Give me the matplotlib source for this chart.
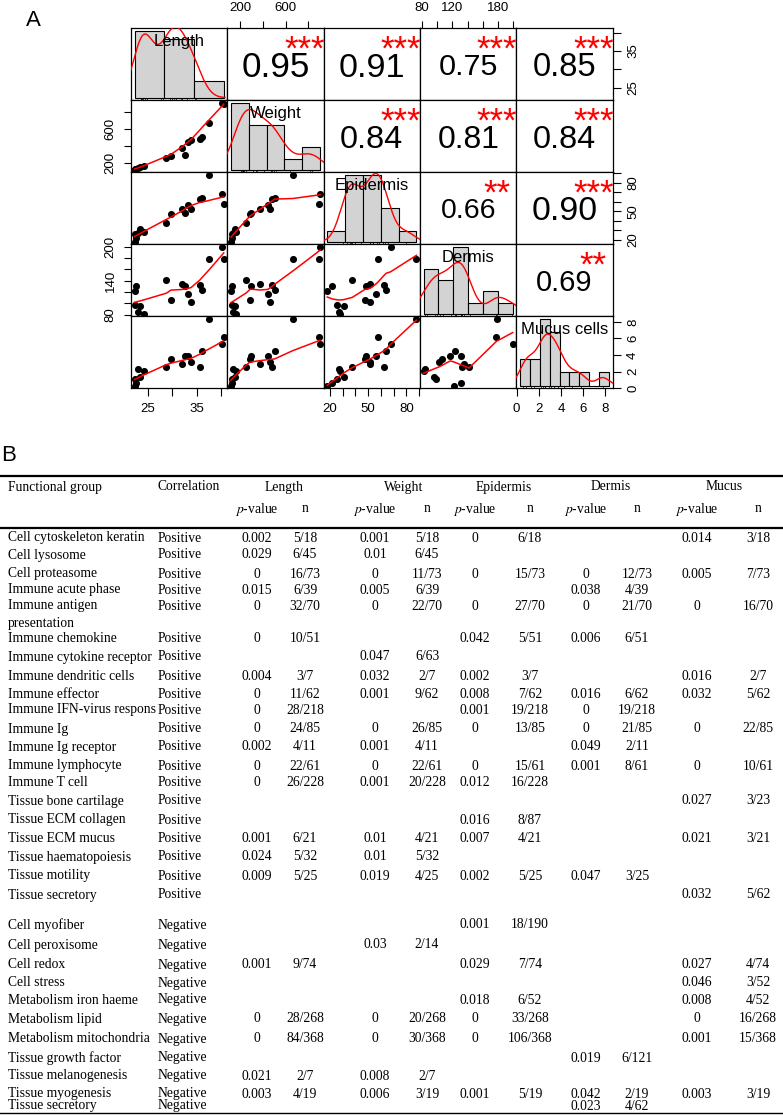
import numpy as np
import matplotlib
matplotlib.use("Agg")
import matplotlib.pyplot as plt
from matplotlib.lines import Line2D

# ---------------- panel A data (one value per fish) ----------------
var_names = ["Length", "Weight", "Epidermis", "Dermis", "Mucus cells"]
length = [22.3, 22.6, 22.3, 23.4, 22.9, 24.2, 28.8, 29.7, 31.9, 32.6, 33.1, 33.8, 35.6, 36.1, 37.5, 40.2, 40.5]
weight = [118, 125, 130, 152, 140, 164, 252, 284, 376, 292, 444, 464, 484, 504, 664, 904, 890]
epidermis = [18, 22, 26, 31, 27, 28, 37.7, 47.5, 51.8, 48.3, 56.3, 51.8, 62.4, 64.2, 88, 67.7, 57.8]
dermis = [122, 131, 98, 96, 84, 82, 141.8, 106.7, 135, 131, 117, 101.8, 132, 123, 179, 199.5, 178]
mucus = [0.3, 0.6, 1.1, 1.4, 2.3, 2.1, 2.54, 3.48, 2.95, 3.84, 3.84, 3.1, 2.54, 4.49, 8.35, 5.3, 6.2]

# upper-triangle correlations, row by row
r_values = [0.95, 0.91, 0.75, 0.85, 0.84, 0.81, 0.84, 0.66, 0.90, 0.69]
r_stars = ["***", "***", "***", "***", "***", "***", "***", "**", "***", "**"]

hist_breaks = [np.arange(20, 51, 10), np.arange(0, 1001, 200), np.arange(0, 101, 20),
               np.arange(80, 201, 20), np.arange(0, 10, 1)]
axis_ticks = [[25, 30, 35, 40], [200, 400, 600, 800], list(range(20, 91, 10)),
              list(range(80, 201, 20)), [0, 2, 4, 6, 8]]
tick_labels_h = [["25", "", "35", ""], ["200", "", "600", ""],
                 ["20", "", "", "50", "", "", "80", ""],
                 ["80", "", "120", "", "", "180", ""], ["0", "2", "4", "6", "8"]]
tick_labels_v = [["25", "", "35", ""], ["200", "", "600", ""],
                 ["20", "", "", "50", "", "", "80", ""],
                 ["80", "", "", "140", "", "", "200"], ["0", "2", "4", "6", "8"]]

# ---------------- panel B data ----------------
groups = ["Cell cytoskeleton keratin", "Cell lysosome", "Cell proteasome", "Immune acute phase",
          "Immune antigen\npresentation", "Immune chemokine", "Immune cytokine receptor",
          "Immune dendritic cells", "Immune effector", "Immune IFN-virus respons", "Immune Ig",
          "Immune Ig receptor", "Immune lymphocyte", "Immune T cell", "Tissue bone cartilage",
          "Tissue ECM collagen", "Tissue ECM mucus", "Tissue haematopoiesis", "Tissue motility",
          "Tissue secretory",
          "Cell myofiber", "Cell peroxisome", "Cell redox", "Cell stress", "Metabolism iron haeme",
          "Metabolism lipid", "Metabolism mitochondria", "Tissue growth factor",
          "Tissue melanogenesis", "Tissue myogenesis", "Tissue secretory"]
correlation = ["Positive"] * 20 + ["Negative"] * 11
p_len = ["0.002", "0.029", "0", "0.015", "0", "0", "", "0.004", "0", "0", "0", "0.002", "0", "0", "", "",
         "0.001", "0.024", "0.009", "", "", "", "0.001", "", "", "0", "0", "", "0.021", "0.003", ""]
n_len = ["5/18", "6/45", "16/73", "6/39", "32/70", "10/51", "", "3/7", "11/62", "28/218", "24/85", "4/11",
         "22/61", "26/228", "", "", "6/21", "5/32", "5/25", "", "", "", "9/74", "", "", "28/268", "84/368",
         "", "2/7", "4/19", ""]
p_wt = ["0.001", "0.01", "0", "0.005", "0", "", "0.047", "0.032", "0.001", "", "0", "0.001", "0", "0.001",
        "", "", "0.01", "0.01", "0.019", "", "", "0.03", "", "", "", "0", "0", "", "0.008", "0.006", ""]
n_wt = ["5/18", "6/45", "11/73", "6/39", "22/70", "", "6/63", "2/7", "9/62", "", "26/85", "4/11", "22/61",
        "20/228", "", "", "4/21", "5/32", "4/25", "", "", "2/14", "", "", "", "20/268", "30/368", "",
        "2/7", "3/19", ""]
p_epi = ["0", "", "0", "", "0", "0.042", "", "0.002", "0.008", "0.001", "0", "", "0", "0.012", "", "0.016",
         "0.007", "", "0.002", "", "0.001", "", "0.029", "", "0.018", "0", "0", "", "", "0.001", ""]
n_epi = ["6/18", "", "15/73", "", "27/70", "5/51", "", "3/7", "7/62", "19/218", "13/85", "", "15/61",
         "16/228", "", "8/87", "4/21", "", "5/25", "", "18/190", "", "7/74", "", "6/52", "33/268",
         "106/368", "", "", "5/19", ""]
p_der = ["", "", "0", "0.038", "0", "0.006", "", "", "0.016", "0", "0", "0.049", "0.001", "", "", "", "",
         "", "0.047", "", "", "", "", "", "", "", "", "0.019", "", "0.042", "0.023"]
n_der = ["", "", "12/73", "4/39", "21/70", "6/51", "", "", "6/62", "19/218", "21/85", "2/11", "8/61", "",
         "", "", "", "", "3/25", "", "", "", "", "", "", "", "", "6/121", "", "2/19", "4/62"]
p_muc = ["0.014", "", "0.005", "", "0", "", "", "0.016", "0.032", "", "0", "", "0", "", "0.027", "",
         "0.021", "", "", "0.032", "", "", "0.027", "0.046", "0.008", "0", "0.001", "", "", "0.003", ""]
n_muc = ["3/18", "", "7/73", "", "16/70", "", "", "2/7", "5/62", "", "22/85", "", "10/61", "", "3/23", "",
         "3/21", "", "", "5/62", "", "", "4/74", "3/52", "4/52", "16/268", "15/368", "", "", "3/19", ""]
traits = ["Length", "Weight", "Epidermis", "Dermis", "Mucus"]

W, H = 783, 1115
SANS = "Liberation Sans"
SERIF = "Liberation Serif"
plt.rcParams["font.family"] = SANS
plt.rcParams["mathtext.fontset"] = "stix"

fig = plt.figure(figsize=(W / 100, H / 100), dpi=100)


def fx(px):
    return px / W


def fy(py):
    return 1 - py / H


def lowess(x, y, f=2 / 3, iters=3):
    x = np.asarray(x, float)
    y = np.asarray(y, float)
    o = np.argsort(x, kind="stable")
    x, y = x[o], y[o]
    n = len(x)
    ns = max(min(int(f * n + 1e-7), n), 2)
    rw = np.ones(n)
    fit = np.zeros(n)
    for it in range(iters + 1):
        for i in range(n):
            d = np.abs(x - x[i])
            h = max(np.sort(d)[ns - 1], 1e-12)
            u = d / h
            w = np.where(u < 1, (1 - u ** 3) ** 3, 0.0) * rw
            sw = w.sum()
            xm = (w * x).sum() / sw
            b = (w * (x - xm) ** 2).sum()
            ym = (w * y).sum() / sw
            if b > 1e-10:
                fit[i] = ym + (w * (x - xm) * y).sum() / b * (x[i] - xm)
            else:
                fit[i] = ym
        if it == iters:
            break
        res = y - fit
        m = np.median(np.abs(res))
        if m == 0:
            break
        u = res / (6 * m)
        rw = np.where(np.abs(u) < 1, (1 - u ** 2) ** 2, 0.0)
    return x, fit


def density(v):
    v = np.asarray(v, float)
    n = len(v)
    q75, q25 = np.percentile(v, [75, 25])
    bw = 0.9 * min(v.std(ddof=1), (q75 - q25) / 1.34) * n ** -0.2
    g = np.linspace(v.min() - 3 * bw, v.max() + 3 * bw, 512)
    d = np.exp(-0.5 * ((g[:, None] - v[None, :]) / bw) ** 2).sum(1) / (n * bw * np.sqrt(2 * np.pi))
    return g, d


def pad_range(v):
    lo, hi = min(v), max(v)
    s = hi - lo
    return lo - 0.04 * s, hi + 0.04 * s


data = [length, weight, epidermis, dermis, mucus]
nv = len(data)
xe = np.linspace(131, 612.7, nv + 1)
ye = np.linspace(28.3, 388.3, nv + 1)
cell_h = ye[1] - ye[0]

axes = [[None] * nv for _ in range(nv)]
k = 0
for i in range(nv):
    for j in range(nv):
        rect = [fx(xe[j]), fy(ye[i + 1]), fx(xe[j + 1]) - fx(xe[j]), (ye[i + 1] - ye[i]) / H]
        ax = fig.add_axes(rect)
        ax.set_xlim(pad_range(data[j]))
        ax.set_ylim(pad_range(data[i]))
        ax.set_xticks([])
        ax.set_yticks([])
        for s in ax.spines.values():
            s.set_linewidth(0.9)
        axes[i][j] = ax
        if i > j:
            ax.scatter(data[j], data[i], s=26, color="black", zorder=2, linewidths=0)
            lx, ly = lowess(data[j], data[i])
            ax.plot(lx, ly, color="red", lw=1.1, zorder=3)
        elif i < j:
            r = r_values[k]
            fs_r = 26 * (abs(r) + 0.6) / 1.6
            base = 0.5 - 0.358 * fs_r * 100 / 72 / cell_h
            ax.text(0.5, base, f"{r:.2f}", ha="center", va="baseline", fontsize=fs_r,
                    transform=ax.transAxes)
            ax.text(0.8, 0.57, r_stars[k], ha="center", va="baseline", fontsize=25, color="red",
                    transform=ax.transAxes, clip_on=True)
            k += 1
        else:
            hax = fig.add_axes(rect)
            hax.axis("off")
            br = hist_breaks[i]
            cnt, _ = np.histogram(data[i], bins=br)
            dens = cnt / (len(data[i]) * np.diff(br))
            g, d = density(data[i])
            span = br[-1] - br[0]
            hax.set_xlim(br[0] - 0.04 * span, br[-1] + 0.04 * span)
            top = dens.max()
            hax.set_ylim(-0.04 * top, 1.04 * top)
            hax.bar(br[:-1], dens, width=np.diff(br), align="edge", color="#D3D3D3",
                    edgecolor="black", linewidth=0.8)
            hax.plot(g, d, color="red", lw=1.0)
            hax.vlines(data[i], -0.04 * top, -0.04 * top + 0.03 * 1.08 * top, color="black", lw=0.5)
            base = 0.833 - 0.358 * 12 * 100 / 72 / cell_h
            hax.text(0.5, base, var_names[i], ha="center", va="baseline", fontsize=12,
                     transform=hax.transAxes)

tick_kw = dict(length=5.4, width=0.8, labelsize=9.5, pad=5)
for j in range(nv):
    if j % 2 == 0:
        ax = axes[nv - 1][j]
        ax.set_xticks(axis_ticks[j])
        ax.set_xticklabels(tick_labels_h[j])
        ax.tick_params(axis="x", bottom=True, **tick_kw)
    else:
        ax = axes[0][j]
        ax.set_xticks(axis_ticks[j])
        ax.set_xticklabels(tick_labels_h[j])
        ax.xaxis.tick_top()
        ax.tick_params(axis="x", top=True, **tick_kw)
for i in range(nv):
    if i % 2 == 1:
        ax = axes[i][0]
        ax.set_yticks(axis_ticks[i])
        ax.set_yticklabels(tick_labels_v[i], rotation=90, va="center")
        ax.tick_params(axis="y", left=True, **tick_kw)
    else:
        ax = axes[i][nv - 1]
        ax.set_yticks(axis_ticks[i])
        ax.set_yticklabels(tick_labels_v[i], rotation=90, va="center")
        ax.yaxis.tick_right()
        ax.tick_params(axis="y", right=True, **tick_kw)

fig.text(fx(33), fy(21), "A", fontsize=16, ha="center", va="center", family=SANS)
fig.text(fx(9), fy(456), "B", fontsize=16, ha="center", va="center", family=SANS)

# ---------------- panel B table ----------------
row_y = [538, 555, 574, 590, 606, 639, 657, 677, 695, 710, 729, 747, 766, 782, 801, 820, 839, 857,
         876, 895, 925, 945, 965, 983, 1000, 1019, 1039, 1058, 1076, 1094, 1106]
col_x = [257, 305, 375, 427, 475, 530, 586, 637, 697, 758]
head_x = [284, 404, 504, 611, 724]
fs = 9.8
tkw = dict(fontsize=fs, family=SERIF, va="center")

for yy, lw in [(476, 1.6), (528, 1.6), (1113, 1.0)]:
    fig.add_artist(Line2D([0, 1], [fy(yy), fy(yy)], color="black", lw=lw))

fig.text(fx(8), fy(487), "Functional group", ha="left", **tkw)
fig.text(fx(158), fy(487), "Correlation", ha="left", **tkw)
for t, hx in zip(traits, head_x):
    fig.text(fx(hx), fy(487), t, ha="center", **tkw)
for c in range(len(traits)):
    fig.text(fx(col_x[2 * c]), fy(509), r"$p$-value", ha="center", **tkw)
    fig.text(fx(col_x[2 * c + 1]), fy(509), "n", ha="center", **tkw)

columns = [p_len, n_len, p_wt, n_wt, p_epi, n_epi, p_der, n_der, p_muc, n_muc]
for r, yy in enumerate(row_y):
    for li, line in enumerate(groups[r].split("\n")):
        fig.text(fx(8), fy(yy + 17 * li), line, ha="left", **tkw)
    fig.text(fx(158), fy(yy), correlation[r], ha="left", **tkw)
    for cx, col in zip(col_x, columns):
        if col[r]:
            fig.text(fx(cx), fy(yy), col[r], ha="center", **tkw)

fig.savefig("out.png", dpi=100)
